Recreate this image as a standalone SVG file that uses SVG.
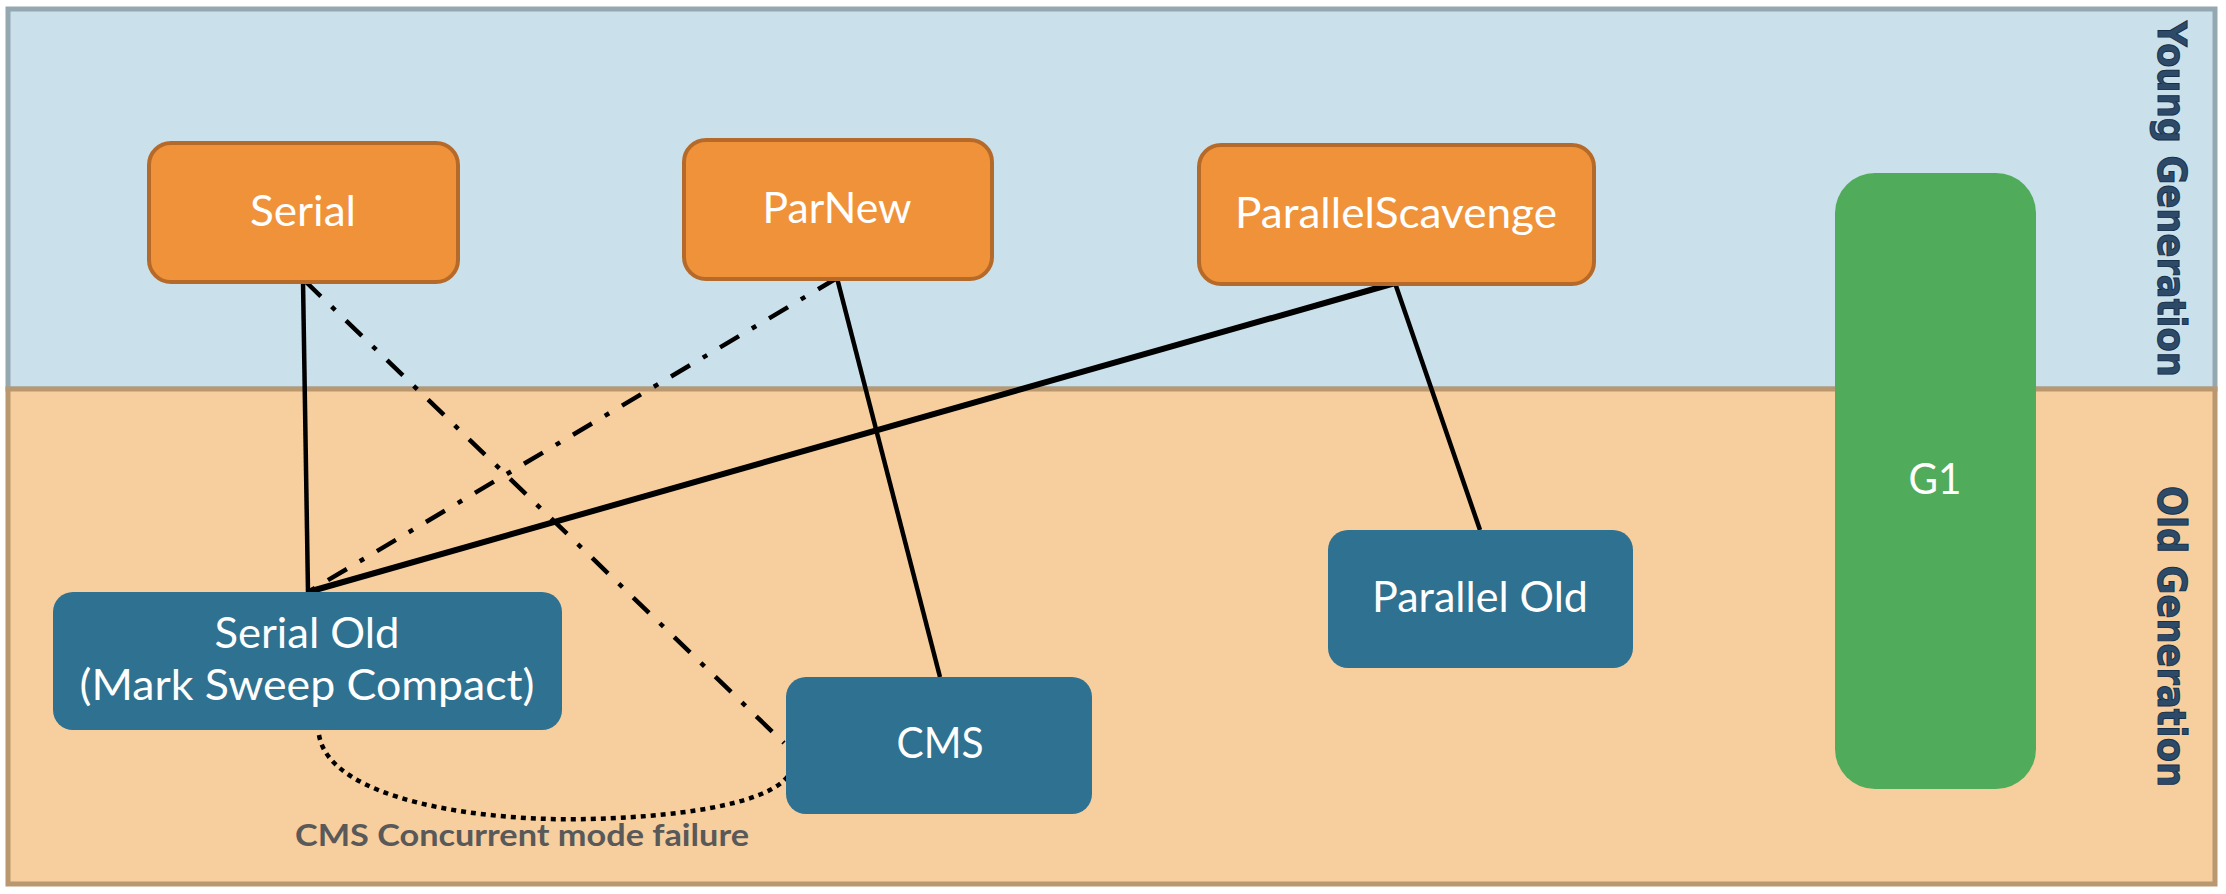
<svg xmlns="http://www.w3.org/2000/svg" width="2226" height="894" viewBox="0 0 2226 894">
<style>
.region-young{fill:#CAE1EC;stroke:#95A7B1;stroke-width:5}
.region-old{fill:#F7CE9D;stroke:#B9976F;stroke-width:5}
.young{fill:#F0923A;stroke:#B56A2A;stroke-width:4}
.old{fill:#2E7190}
.g1{fill:#50AB5A}
.lbl{font-family:Lato,"Open Sans","Liberation Sans",sans-serif;font-size:42px;fill:#FFFFFF;text-anchor:middle}
.gen{font-family:"DejaVu Sans","Liberation Sans",sans-serif;font-weight:bold;font-size:39px;fill:#2D4B68;stroke:#16304A;stroke-width:1}
.edge{fill:none;stroke:#000000;stroke-width:4.5}
.thick{stroke-width:6}
.dashdot{stroke-dasharray:22 15 5 15}
.dotted{stroke-dasharray:5 5}
.note{font-family:Lato,"Open Sans","Liberation Sans",sans-serif;font-weight:bold;font-size:31px;fill:#595959;text-anchor:middle}
</style>
<g id="regions">
<rect class="region-young" x="8" y="9" width="2207" height="380"/>
<rect class="region-old" x="8" y="389" width="2207" height="495"/>
<text class="gen" transform="translate(2158,21) rotate(90)" textLength="356" lengthAdjust="spacingAndGlyphs">Young Generation</text>
<text class="gen" transform="translate(2158,486) rotate(90)" textLength="301" lengthAdjust="spacingAndGlyphs">Old Generation</text>
</g>
<g id="connectors">
<line class="edge" x1="303" y1="281" x2="308" y2="592"/>
<line class="edge dashdot" x1="305" y1="281" x2="784" y2="743"/>
<line class="edge dashdot" x1="837" y1="278" x2="308" y2="592"/>
<line class="edge" x1="837" y1="278" x2="940" y2="677"/>
<line class="edge thick" x1="1395" y1="283" x2="308" y2="592"/>
<line class="edge" x1="1395" y1="283" x2="1480" y2="530"/>
<path class="edge dotted" d="M319,735 C330,800 480,822 590,819 C700,816 770,800 788,776"/>
<text class="note" x="522" y="846" textLength="454" lengthAdjust="spacingAndGlyphs">CMS Concurrent mode failure</text>
</g>
<g id="serial">
<rect class="young" x="149" y="143" width="309" height="139" rx="22"/>
<text class="lbl" x="303" y="226" textLength="106" lengthAdjust="spacingAndGlyphs">Serial</text>
</g>
<g id="parnew">
<rect class="young" x="684" y="140" width="308" height="139" rx="22"/>
<text class="lbl" x="837" y="223" textLength="149" lengthAdjust="spacingAndGlyphs">ParNew</text>
</g>
<g id="parallelscavenge">
<rect class="young" x="1199" y="145" width="395" height="139" rx="22"/>
<text class="lbl" x="1396" y="228" textLength="322" lengthAdjust="spacingAndGlyphs">ParallelScavenge</text>
</g>
<g id="g1">
<rect class="g1" x="1835" y="173" width="201" height="616" rx="40"/>
<text class="lbl" x="1935" y="494" textLength="53" lengthAdjust="spacingAndGlyphs">G1</text>
</g>
<g id="serial-old">
<rect class="old" x="53" y="592" width="509" height="138" rx="20"/>
<text class="lbl" x="307" y="648" textLength="185" lengthAdjust="spacingAndGlyphs">Serial Old</text>
<text class="lbl" x="307" y="700" textLength="455" lengthAdjust="spacingAndGlyphs">(Mark Sweep Compact)</text>
</g>
<g id="cms">
<rect class="old" x="786" y="677" width="306" height="137" rx="20"/>
<text class="lbl" x="940" y="758" textLength="87" lengthAdjust="spacingAndGlyphs">CMS</text>
</g>
<g id="parallel-old">
<rect class="old" x="1328" y="530" width="305" height="138" rx="20"/>
<text class="lbl" x="1480" y="612" textLength="216" lengthAdjust="spacingAndGlyphs">Parallel Old</text>
</g>
</svg>
